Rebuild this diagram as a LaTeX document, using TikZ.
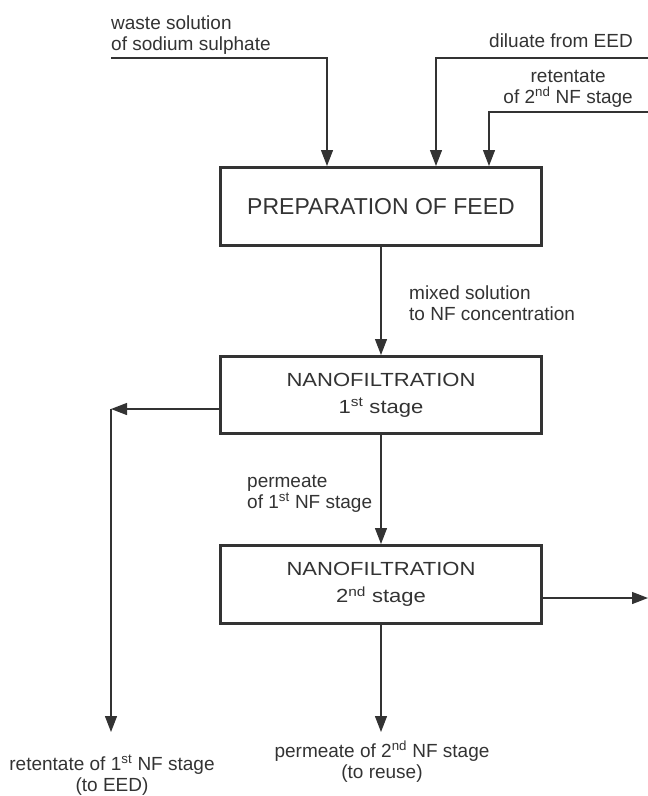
\documentclass[tikz,border=0pt]{standalone}
\usepackage{fontspec}
\setmainfont{Liberation Sans}
\newfontfamily\nffont[FakeStretch=1.16]{Liberation Sans}
\usetikzlibrary{arrows.meta}
\definecolor{ink}{HTML}{333333}
\begin{document}
\begin{tikzpicture}[x=1pt,y=-1pt,
  conn/.style={draw=ink, line width=1.3pt},
  arr/.style={conn, -{Triangle[length=16pt,width=12pt]}},
  procbox/.style={draw=ink, line width=3pt, minimum width=321pt, minimum height=78pt, inner sep=0pt, text=ink},
  lbl/.style={inner sep=0pt, text=ink, font=\fontsize{19}{21}\selectfont}]
\useasboundingbox (0,0) rectangle (648,796);

% process boxes
\node[procbox, font=\fontsize{23}{27}\selectfont] (prep) at (381,206.5) {PREPARATION OF FEED};
\node[procbox, minimum height=77pt, align=center, font=\nffont\fontsize{19}{27}\selectfont] (nf1) at (381,395) {NANOFILTRATION\\1\textsuperscript{st} stage};
\node[procbox, align=center, font=\nffont\fontsize{19}{27}\selectfont] (nf2) at (381,584.5) {NANOFILTRATION\\2\textsuperscript{nd} stage};

% free ends
\coordinate (wasteS) at (111,58);
\coordinate (dilS) at (648,58);
\coordinate (retS) at (648,112);
\coordinate (ret1c) at (111,409);
\coordinate (ret1end) at (111,732);
\coordinate (perm2end) at (381,732);
\coordinate (ret2out) at (648,598);

% connectors
\draw[arr] (wasteS) -| ([xshift=-54pt]prep.north);
\draw[arr] (dilS) -| ([xshift=55pt]prep.north);
\draw[arr] (retS) -| ([xshift=108pt]prep.north);
\draw[arr] (prep) -- (nf1);
\draw[arr] (nf1) -- (nf2);
\draw[arr] ([yshift=-14pt]nf1.west) -- (ret1c);
\draw[arr] (ret1c) -- (ret1end);
\draw[arr] (nf2) -- (perm2end);
\draw[arr] ([yshift=-13.5pt]nf2.east) -- (ret2out);

% labels (base anchor = baseline of last line)
\node[lbl, anchor=base west, align=left] (lwaste) at (111,50) {waste solution\\of sodium sulphate};
\node[lbl, anchor=base east] (ldil) at (633,47) {diluate from EED};
\node[lbl, anchor=base east, align=center] (lret2) at (633,103) {retentate\\of 2\textsuperscript{nd} NF stage};
\node[lbl, anchor=base west, align=left] (lmix) at (409,320) {mixed solution\\to NF concentration};
\node[lbl, anchor=base west, align=left] (lperm1) at (247,508) {permeate\\of 1\textsuperscript{st} NF stage};
\node[lbl, anchor=base, align=center] (lret1) at (112,791) {retentate of 1\textsuperscript{st} NF stage\\(to EED)};
\node[lbl, anchor=base, align=center] (lperm2) at (382,778) {permeate of 2\textsuperscript{nd} NF stage\\(to reuse)};
\end{tikzpicture}
\end{document}
